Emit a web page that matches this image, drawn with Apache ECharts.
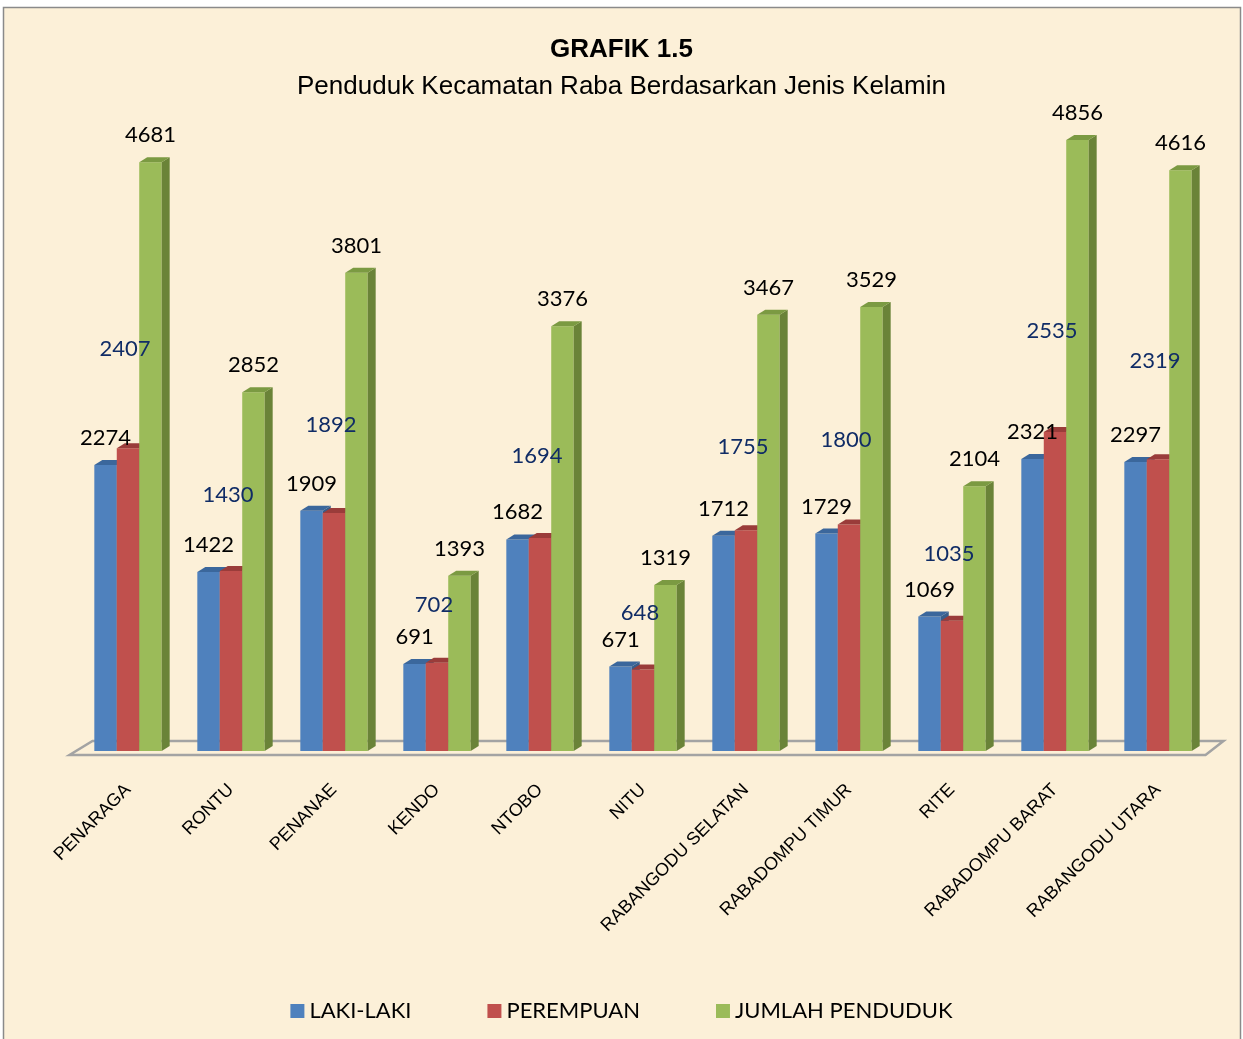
<!DOCTYPE html>
<html lang="en">
<head>
   <meta charset="utf-8">
   <title>Grafik 1.5</title>
   <script src="https://cdn.jsdelivr.net/npm/echarts@6/dist/echarts.min.js"></script>
   <style>
      html, body { margin: 0; padding: 0; background: #fff; }
      #chart { width: 1243px; height: 1039px; }
   </style>
</head>
<body>
   <div id="chart"></div>
   <script>
      var kecamatan = ['PENARAGA', 'RONTU', 'PENANAE', 'KENDO', 'NTOBO', 'NITU',
         'RABANGODU SELATAN', 'RABADOMPU TIMUR', 'RITE', 'RABADOMPU BARAT', 'RABANGODU UTARA'];
      var lakiLaki = [2274, 1422, 1909, 691, 1682, 671, 1712, 1729, 1069, 2321, 2297];
      var perempuan = [2407, 1430, 1892, 702, 1694, 648, 1755, 1800, 1035, 2535, 2319];
      var jumlah = [4681, 2852, 3801, 1393, 3376, 1319, 3467, 3529, 2104, 4856, 4616];

      var seriesNames = ['LAKI-LAKI', 'PEREMPUAN', 'JUMLAH PENDUDUK'];
      // front, side, top faces
      var faces = [
         ['#4f81bd', '#385d8a', '#3b679c'],
         ['#c0504d', '#8c3836', '#9a3c3a'],
         ['#9bbb59', '#6a8338', '#7b9a42']
      ];
      var labelColors = ['#000000', '#102c66', '#000000'];
      var labelFont = '22px Lato, "Open Sans", sans-serif';

      var dom = document.getElementById('chart');
      var myChart = echarts.init(dom, null, { renderer: 'canvas' });

      var DX = 8, DY = 5;

      function makeRender(s) {
         return function (params, api) {
            var idx = api.value(0);
            var val = api.value(1);
            var top = api.coord([idx, val]);
            var base = api.coord([idx, 0]);
            var band = api.size([1, 0])[0];
            var barW = band * 0.218;
            var x0 = top[0] - 1.5 * barW + s * barW;
            var x1 = x0 + barW;
            var y0 = top[1], yb = base[1];
            var c = faces[s];
            var children = [
               { type: 'rect', z2: 1, shape: { x: x0, y: y0, width: barW, height: yb - y0 }, style: { fill: c[0] } },
               { type: 'polygon', z2: 1, shape: { points: [[x1, y0], [x1 + DX, y0 - DY], [x1 + DX, yb - DY], [x1, yb]] }, style: { fill: c[1] } },
               { type: 'polygon', z2: 1, shape: { points: [[x0, y0], [x0 + DX, y0 - DY], [x1 + DX, y0 - DY], [x1, y0]] }, style: { fill: c[2] } }
            ];
            var lx = x0 + barW / 2, ly = y0 - 27;
            if (s === 1) {
               // excel places these labels higher, growing with the total
               var p = api.coord([idx, val + 0.1 * api.value(2)]);
               lx = lx - 3;
               ly = p[1] - 40;
            }
            children.push({
               type: 'text', z2: 100,
               x: lx, y: ly,
               style: {
                  text: String(val), fill: labelColors[s], font: labelFont,
                  align: 'center', verticalAlign: 'middle'
               }
            });
            return { type: 'group', children: children };
         };
      }

      var series = [lakiLaki, perempuan, jumlah].map(function (arr, s) {
         return {
            name: seriesNames[s],
            type: 'custom',
            itemStyle: { color: faces[s][0] },
            renderItem: makeRender(s),
            encode: { x: 0, y: 1 },
            data: arr.map(function (v, i) { return [i, v, jumlah[i]]; })
         };
      });

      // floor of the 3d plot
      series.unshift({
         type: 'custom',
         silent: true,
         renderItem: function (params, api) {
            var cs = params.coordSys;
            var yb = cs.y + cs.height;
            return {
               type: 'polygon',
               shape: { points: [[cs.x - 7, yb + 4], [cs.x + cs.width - 4, yb + 4], [cs.x + cs.width + 14, yb - 10], [cs.x + 16, yb - 10]] },
               style: { fill: 'none', stroke: '#a3a3a3', lineWidth: 2.5 }
            };
         },
         data: [[0, 0]]
      });

      var option = {
         animation: false,
         graphic: [
            {
               type: 'rect', z: -10,
               shape: { x: 3.5, y: 7.5, width: 1237, height: 1040 },
               style: { fill: '#fcf0d8', stroke: '#8a8a8a', lineWidth: 1.5 }
            }
         ],
         title: {
            text: 'GRAFIK 1.5',
            subtext: 'Penduduk Kecamatan Raba Berdasarkan Jenis Kelamin',
            left: 'center',
            top: 32,
            itemGap: 11,
            textStyle: {
               fontFamily: '"Liberation Sans", Arial',
               fontWeight: 'bold', fontSize: 26, color: '#000'
            },
            subtextStyle: {
               fontFamily: '"Liberation Sans", Arial',
               fontSize: 26, color: '#000'
            }
         },
         legend: {
            bottom: 12,
            left: 'center',
            itemWidth: 14,
            itemHeight: 14,
            itemGap: 76,
            icon: 'rect',
            data: seriesNames,
            textStyle: { fontFamily: 'Lato, sans-serif', fontSize: 22, color: '#000' }
         },
         grid: { left: 76.5, right: 33.5, top: 122, bottom: 288 },
         xAxis: {
            type: 'category',
            data: kecamatan,
            axisLine: { show: false },
            axisTick: { show: false },
            axisLabel: {
               interval: 0,
               rotate: 45,
               margin: 36,
               fontSize: 18,
               fontFamily: '"Liberation Sans", Arial',
               color: '#000'
            }
         },
         yAxis: {
            type: 'value',
            min: 0,
            max: 5000,
            show: false,
            splitLine: { show: false }
         },
         series: series
      };

      myChart.setOption(option);
   </script>
</body>
</html>
